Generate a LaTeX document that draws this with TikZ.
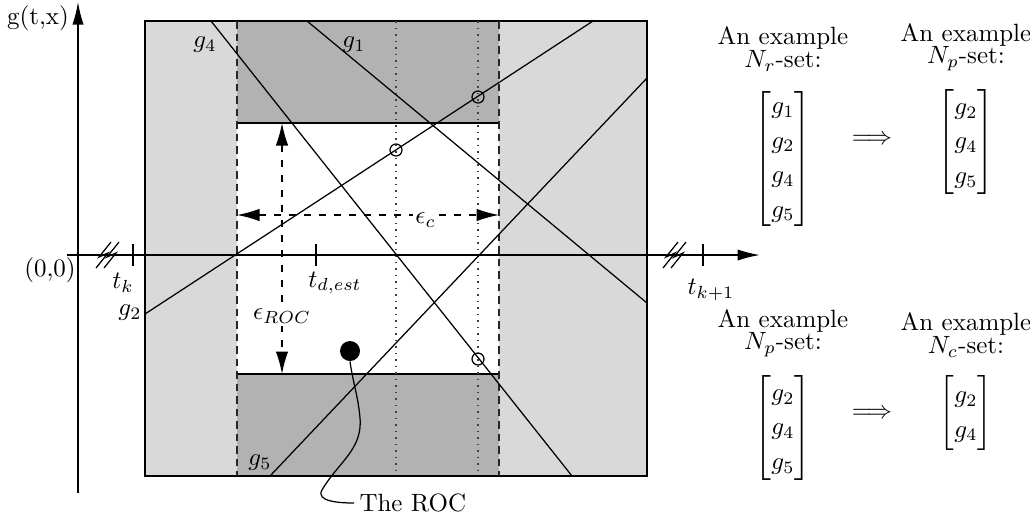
\documentclass[tikz,border=0pt]{standalone}
\usepackage{amsmath, amssymb}
\usepackage{xcolor}
\usepackage{tikz}
\usetikzlibrary{positioning, arrows.meta}
\tikzset{
  lightband/.style={fill=black!15},
  darkband/.style={fill=black!30},
  frame/.style={draw=black, line width=0.8pt},
  edgeline/.style={densely dashed, line width=0.8pt, black!85},
  gridline/.style={dotted, line width=0.6pt, black!75},
  gline/.style={line width=0.5pt},
  axis/.style={line width=0.6pt, -{Latex[length=9pt, width=4.5pt]}},
  brk/.style={line width=0.5pt},
  dimarrow/.style={dashed, line width=0.6pt, {Latex[length=9pt, width=5pt]}-{Latex[length=9pt, width=5pt]}},
  ring/.style={circle, draw, line width=0.5pt, inner sep=0pt, minimum size=4.8pt},
  dot/.style={circle, fill=black, inner sep=0pt, minimum size=8pt},
  head/.style={align=center, inner sep=1pt},
  setbox/.style={inner sep=0pt},
}
\renewcommand{\arraystretch}{1.15}

\begin{document}
\begin{tikzpicture}[x=0.4pt, y=-0.4pt]
  \useasboundingbox (0,0) rectangle (1030,521);

  % grey bands
  \fill[lightband] (145,21) rectangle (647,476);
  \fill[white] (237,21) rectangle (499,476);
  \fill[darkband] (237,21) rectangle (499,123);
  \fill[darkband] (237,374) rectangle (499,476);
  \draw[frame] (237,123) -- (499,123);
  \draw[frame] (237,374) -- (499,374);
  \draw[frame] (145,21) rectangle (647,476);
  \draw[edgeline] (237,21) -- (237,476);
  \draw[edgeline] (499,21) -- (499,476);
  \draw[gridline] (396,21) -- (396,476);
  \draw[gridline] (478,21) -- (478,476);

  % the g lines
  \draw[gline] (145,314) -- (593,21);
  \draw[gline] (211,21) -- (572,476);
  \draw[gline] (307,21) -- (647,303);
  \draw[gline] (270,476) -- (647,78);

  % axes
  \coordinate (ybot) at (78,493);
  \coordinate (ytop) at (78,2);
  \coordinate (xleft) at (67,255);
  \coordinate (xright) at (760,255);
  \draw[axis] (ybot) -- (ytop);
  \draw[axis] (xleft) -- (xright);
  \foreach \bx in {107,674}
    \foreach \off in {-4,4}
      \draw[brk] (\bx+\off+8,242) -- (\bx+\off-4,257) -- (\bx+\off+5,253) -- (\bx+\off-7,268);
  \foreach \tx in {133,316,703}
    \draw[gline] (\tx,244) -- (\tx,266);

  % labels
  \node (gtx) at (38,18) {g(t,x)};
  \node (orig) at (50,270) {(0,0)};
  \node (tk) at (123,283) {$t_k$};
  \node (tdest) at (335,283) {$t_{d,est}$};
  \node (tkone) at (711,290) {$t_{k+1}$};
  \node (gtwo) at (130,313) {$g_2$};
  \node (gfour) at (205,45) {$g_4$};
  \node (gone) at (354,45) {$g_1$};
  \node (gfive) at (260,463) {$g_5$};

  % crossings and the ROC
  \node[ring] (cone) at (478,97) {};
  \node[ring] (ctwo) at (396,150) {};
  \node[ring] (cthree) at (478,359) {};
  \node[dot] (roc) at (350,351) {};
  \node[anchor=west, inner sep=2pt] (roclbl) at (354,503) {The ROC};
  \draw[gline] (roc.south) to[out=-82,in=95] (360,418) to[out=-85,in=60] (322,490) to[out=-120,in=180] (roclbl.west);

  % epsilon widths
  \coordinate (ecl) at (237,215);
  \coordinate (ecr) at (499,215);
  \draw[dimarrow] (ecl) -- node[pos=0.72, yshift=-2pt, fill=white, inner sep=1pt] {$\epsilon_c$} (ecr);
  \coordinate (ert) at (282,123);
  \coordinate (erb) at (282,374);
  \draw[dimarrow] (ert) -- node[pos=0.77, fill=white, inner sep=1pt] {$\epsilon_{ROC}$} (erb);

  % example sets
  \node[setbox, anchor=north] (nrset) at (783,89) {$\begin{bmatrix} g_1\\ g_2\\ g_4\\ g_5 \end{bmatrix}$};
  \node[setbox, anchor=north] (npset) at (966,89) {$\begin{bmatrix} g_2\\ g_4\\ g_5 \end{bmatrix}$};
  \node (impone) at (872,140) {$\Longrightarrow$};
  \node[head, above=6pt of nrset] (nrhead) {An example\\[-3pt]$N_r$-set:};
  \node[head, above=6pt of npset] (nphead) {An example\\[-3pt]$N_p$-set:};

  \node[setbox, anchor=north] (npsettwo) at (783,375) {$\begin{bmatrix} g_2\\ g_4\\ g_5 \end{bmatrix}$};
  \node[setbox, anchor=north] (ncset) at (966,375) {$\begin{bmatrix} g_2\\ g_4 \end{bmatrix}$};
  \node (imptwo) at (872,414) {$\Longrightarrow$};
  \node[head, above=6pt of npsettwo] (npheadtwo) {An example\\[-3pt]$N_p$-set:};
  \node[head, above=6pt of ncset] (nchead) {An example\\[-3pt]$N_c$-set:};
\end{tikzpicture}
\end{document}
